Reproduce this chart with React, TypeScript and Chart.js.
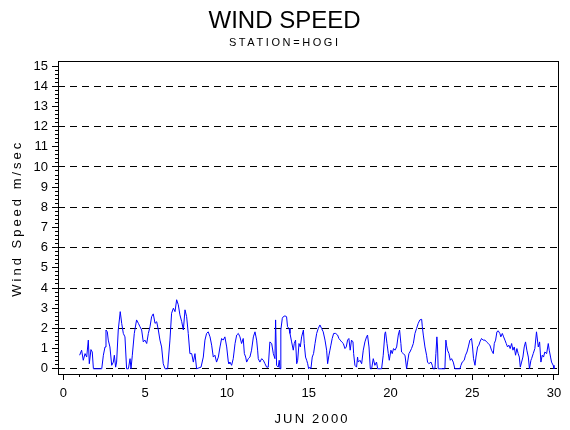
import React, { useEffect, useRef } from 'react';
import Chart from 'chart.js/auto';

// hourly-ish wind speed readings, June 2000 (day of month, m/sec)
const dayTimes = [
  1.00, 1.12, 1.22, 1.33, 1.43, 1.53, 1.59, 1.69, 1.77, 1.84,
  2.35, 2.45, 2.55, 2.61, 2.69, 2.75, 2.85, 2.96, 3.06, 3.12,
  3.20, 3.26, 3.36, 3.48, 3.57, 3.67, 3.77, 3.87, 3.98, 4.08,
  4.14, 4.22, 4.34, 4.48, 4.59, 4.69, 4.79, 4.89, 4.99, 5.10,
  5.20, 5.30, 5.40, 5.50, 5.61, 5.71, 5.81, 5.91, 6.01, 6.11,
  6.22, 6.38, 6.52, 6.62, 6.73, 6.83, 6.93, 7.03, 7.13, 7.24,
  7.34, 7.44, 7.54, 7.64, 7.74, 7.85, 7.95, 8.05, 8.15, 8.42,
  8.56, 8.66, 8.76, 8.86, 8.97, 9.07, 9.17, 9.27, 9.37, 9.48,
  9.58, 9.68, 9.78, 9.88, 9.99, 10.09, 10.13, 10.19, 10.29, 10.39,
  10.50, 10.60, 10.70, 10.80, 10.90, 11.00, 11.07, 11.15, 11.21, 11.31,
  11.41, 11.51, 11.62, 11.72, 11.82, 11.88, 11.92, 12.02, 12.13, 12.23,
  12.33, 12.43, 12.53, 12.63, 12.74, 12.84, 12.94, 12.98, 13.04, 13.14,
  13.20, 13.25, 13.30, 13.39, 13.45, 13.55, 13.65, 13.71, 13.80, 13.86,
  13.96, 14.06, 14.12, 14.20, 14.27, 14.33, 14.41, 14.49, 14.57, 14.68,
  14.73, 14.81, 14.88, 14.94, 15.00, 15.08, 15.14, 15.22, 15.30, 15.39,
  15.49, 15.59, 15.69, 15.79, 15.89, 16.00, 16.10, 16.16, 16.24, 16.30,
  16.36, 16.44, 16.53, 16.65, 16.77, 16.85, 16.93, 17.02, 17.12, 17.22,
  17.30, 17.38, 17.46, 17.54, 17.62, 17.71, 17.75, 17.83, 17.93, 17.99,
  18.03, 18.14, 18.24, 18.34, 18.44, 18.54, 18.60, 18.69, 18.77, 18.85,
  18.95, 19.05, 19.15, 19.22, 19.46, 19.56, 19.66, 19.70, 19.79, 19.87,
  19.93, 20.03, 20.11, 20.19, 20.28, 20.38, 20.48, 20.56, 20.64, 20.68,
  20.78, 20.89, 20.99, 21.05, 21.13, 21.19, 21.29, 21.40, 21.50, 21.60,
  21.70, 21.80, 21.91, 21.95, 22.01, 22.11, 22.21, 22.27, 22.35, 22.48,
  22.56, 22.61, 22.72, 22.78, 22.84, 22.88, 22.92, 23.33, 23.39, 23.43,
  23.49, 23.58, 23.66, 23.74, 23.84, 23.94, 24.25, 24.31, 24.39, 24.51,
  24.59, 24.68, 24.76, 24.86, 24.96, 25.02, 25.08, 25.17, 25.23, 25.33,
  25.41, 25.47, 25.57, 25.67, 25.78, 25.88, 25.98, 26.08, 26.18, 26.29,
  26.35, 26.43, 26.51, 26.59, 26.69, 26.75, 26.84, 26.92, 27.00, 27.08,
  27.16, 27.24, 27.32, 27.41, 27.49, 27.57, 27.65, 27.73, 27.81, 27.88,
  27.94, 28.02, 28.10, 28.18, 28.26, 28.34, 28.43, 28.50, 28.59, 28.63,
  28.73, 28.83, 28.93, 29.04, 29.12, 29.20, 29.28, 29.36, 29.44, 29.55,
  29.65, 29.71, 29.79, 29.85, 29.95, 30.00,
];

const windSpeed = [
  0.67, 0.92, 0.42, 0.75, 0.58, 1.42, 0.25, 0.95, 0.83, 0,
  0, 0.67, 1.08, 1.92, 1.83, 1.42, 1.08, 0.17, 0.33, 0.67,
  0.08, 0.33, 1.92, 2.83, 2.25, 1.75, 1.58, 0, 0, 0.5,
  0, 0.67, 1.75, 2.42, 2.25, 2.08, 1.92, 1.33, 1.42, 1.25,
  1.75, 2.08, 2.58, 2.72, 2.25, 2.33, 1.92, 1.42, 1.08, 0.25,
  0, 0, 1.42, 2.75, 3.0, 2.83, 3.42, 3.17, 2.67, 2.33,
  1.92, 2.92, 2.58, 1.75, 0.75, 0.75, 0.33, 0.75, 0, 0.08,
  0.58, 1.42, 1.75, 1.83, 1.58, 1.17, 0.58, 0.67, 0.33, 0.58,
  1.08, 1.5, 1.42, 1.58, 1.08, 0.33, 0.25, 0.33, 0.17, 0.5,
  1.25, 1.67, 1.75, 1.58, 1.25, 1.5, 0.75, 0.58, 0.33, 0.5,
  0.58, 0.92, 1.58, 1.83, 1.42, 0.92, 0.5, 0.33, 0.5, 0.42,
  0.25, 0.08, 0.08, 1.33, 1.25, 0.75, 0.5, 2.42, 0.17, 0.08,
  0.42, 0, 1.92, 2.5, 2.58, 2.62, 2.58, 2.08, 2.0, 1.75,
  1.33, 0.92, 1.25, 1.42, 0.25, 0.42, 1.25, 1.08, 1.58, 1.92,
  1.25, 0.58, 0.42, 0.25, 0, 0.08, 0, 0.58, 0.75, 1.25,
  1.75, 2.0, 2.17, 2.0, 1.83, 1.42, 0.92, 0.25, 0.67, 0.92,
  1.17, 1.5, 1.75, 1.75, 1.67, 1.5, 1.42, 1.33, 1.25, 1.0,
  1.08, 1.42, 1.5, 0.92, 1.42, 1.33, 0.75, 0.17, 0.08, 0.58,
  0.33, 0.42, 0.25, 0.92, 1.33, 1.58, 1.67, 1.08, 0, 0,
  0.5, 0.17, 0.33, 0, 0, 0.67, 1.75, 1.83, 1.25, 0.75,
  0.42, 0.92, 0.75, 1.0, 0.92, 1.08, 1.67, 1.92, 1.25, 0.83,
  0.75, 0.67, 0, 0.33, 0.75, 0.83, 1.0, 1.25, 1.75, 2.0,
  2.25, 2.42, 2.45, 2.08, 1.67, 1.08, 0.67, 0.33, 0.25, 0.33,
  0.17, 0, 0, 0.75, 1.58, 1.08, 0, 0, 1.42, 1.17,
  0.92, 0.75, 0.42, 0.5, 0.33, 0, 0, 0.17, 0.33, 0.42,
  0.67, 0.83, 1.08, 1.42, 1.5, 1.08, 0.5, 0.17, 0.58, 1.08,
  1.17, 1.33, 1.5, 1.42, 1.42, 1.33, 1.25, 1.17, 0.92, 0.75,
  1.25, 1.42, 1.83, 1.88, 1.75, 1.58, 1.75, 1.58, 1.42, 1.25,
  1.08, 1.17, 1.0, 1.25, 0.92, 1.08, 0.67, 1.0, 0.75, 0.58,
  0.08, 0.33, 0.58, 1.08, 1.33, 0.92, 0.58, 0, 0.42, 0.5,
  0.75, 1.0, 1.83, 1.08, 1.33, 0.33, 0.67, 0.58, 0.83, 0.75,
  1.25, 0.92, 0.58, 0.33, 0.17, 0,
];

const xMajorTicks = [0, 5, 10, 15, 20, 25, 30];
const xMinorTicks = Array.from({ length: 31 }, (_, i) => i);
const yMajorTicks = Array.from({ length: 16 }, (_, i) => i);
const yMinorTicks = Array.from({ length: 76 }, (_, i) => i / 5);
const dashedLevels = [0, 2, 4, 6, 8, 10, 12, 14];

const X_MIN = -0.324;
const X_MAX = 30.245;
const Y_MIN = -0.26;
const Y_MAX = 15.25;

const FONT = '"Liberation Sans", Arial, sans-serif';

function drawSpaced(ctx: CanvasRenderingContext2D, text: string, cx: number, y: number, size: number, spacing: number) {
  ctx.font = `${size}px ${FONT}`;
  (ctx as any).letterSpacing = '0px';
  const w0 = ctx.measureText(text).width;
  const total = w0 + spacing * (text.length - 1);
  (ctx as any).letterSpacing = `${spacing}px`;
  ctx.textAlign = 'left';
  ctx.textBaseline = 'alphabetic';
  ctx.fillText(text, cx - total / 2, y);
  (ctx as any).letterSpacing = '0px';
}

const textPlugin = {
  id: 'sasText',
  afterDraw(chart: any) {
    const ctx = chart.ctx as CanvasRenderingContext2D;
    ctx.save();
    ctx.fillStyle = '#000';
    drawSpaced(ctx, 'WIND SPEED', 284.5, 28.3, 24, 0);
    drawSpaced(ctx, 'STATION=HOGI', 283.5, 46.3, 11, 2.6);
    drawSpaced(ctx, 'JUN 2000', 311, 423, 13, 2.2);
    ctx.translate(21, 219.7);
    ctx.rotate(-Math.PI / 2);
    drawSpaced(ctx, 'Wind Speed m/sec', 0, 0, 13, 3);
    ctx.restore();
  },
};

const framePlugin = {
  id: 'frame',
  afterDatasetsDraw(chart: any) {
    const { ctx, chartArea } = chart;
    ctx.save();
    ctx.strokeStyle = '#000';
    ctx.lineWidth = 1;
    ctx.strokeRect(
      Math.round(chartArea.left) + 0.5,
      Math.round(chartArea.top) + 0.5,
      Math.round(chartArea.right - chartArea.left),
      Math.round(chartArea.bottom - chartArea.top)
    );
    ctx.restore();
  },
};

const tickFont = { family: FONT, size: 13 };

const WindSpeedChart: React.FC = () => {
  const canvasRef = useRef<HTMLCanvasElement>(null);

  useEffect(() => {
    if (!canvasRef.current) return;
    const points = dayTimes.map((d, i) => ({ x: d, y: windSpeed[i] }));

    const chart = new Chart(canvasRef.current, {
      type: 'line',
      data: {
        datasets: [{
          label: 'Wind Speed',
          data: points,
          borderColor: '#0000ff',
          borderWidth: 1,
          pointRadius: 0,
          tension: 0,
          fill: false,
        }],
      },
      options: {
        animation: false,
        responsive: true,
        maintainAspectRatio: false,
        layout: { padding: { top: 61, right: 12, left: 0, bottom: 0 } },
        plugins: {
          legend: { display: false },
          tooltip: { enabled: false },
          title: { display: false },
        },
        scales: {
          x: {
            type: 'linear',
            position: 'bottom',
            min: X_MIN,
            max: X_MAX,
            weight: 1,
            afterBuildTicks: (s: any) => { s.ticks = xMajorTicks.map(v => ({ value: v })); },
            afterFit: (s: any) => { s.height = 56; },
            ticks: { font: tickFont, color: '#000', padding: 6, autoSkip: false, maxRotation: 0, callback: (v: any) => String(v) },
            grid: { drawOnChartArea: false, tickLength: 6, tickColor: '#000', color: '#000' },
            border: { display: false },
          },
          xMinor: {
            type: 'linear',
            position: 'bottom',
            min: X_MIN,
            max: X_MAX,
            weight: 0,
            afterBuildTicks: (s: any) => { s.ticks = xMinorTicks.map(v => ({ value: v })); },
            afterFit: (s: any) => { s.height = 0; },
            ticks: { display: false },
            grid: { drawOnChartArea: false, tickLength: 3, tickColor: '#000', color: '#000' },
            border: { display: false },
          },
          y: {
            type: 'linear',
            position: 'left',
            min: Y_MIN,
            max: Y_MAX,
            weight: 1,
            afterBuildTicks: (s: any) => { s.ticks = yMajorTicks.map(v => ({ value: v })); },
            afterFit: (s: any) => { s.width = 58; },
            ticks: { font: tickFont, color: '#000', padding: 4, autoSkip: false, callback: (v: any) => String(v) },
            grid: {
              color: (c: any) => (dashedLevels.includes(c.tick?.value) ? '#000' : 'rgba(0,0,0,0)'),
              tickColor: '#000',
              tickLength: 6,
              lineWidth: 1,
            },
            border: { display: false, dash: [7, 5] },
          },
          yMinor: {
            type: 'linear',
            position: 'left',
            min: Y_MIN,
            max: Y_MAX,
            weight: 0,
            afterBuildTicks: (s: any) => { s.ticks = yMinorTicks.map(v => ({ value: v })); },
            afterFit: (s: any) => { s.width = 0; },
            ticks: { display: false },
            grid: { drawOnChartArea: false, tickLength: 3, tickColor: '#000', color: '#000' },
            border: { display: false },
          },
        },
      },
      plugins: [framePlugin, textPlugin],
    } as any);

    return () => {
      chart.destroy();
    };
  }, []);

  return (
    <div style={{ position: 'absolute', left: 0, top: 0, width: 570, height: 430, background: '#fff' }}>
      <canvas ref={canvasRef} />
    </div>
  );
};

export default function App() {
  return <WindSpeedChart />;
}
